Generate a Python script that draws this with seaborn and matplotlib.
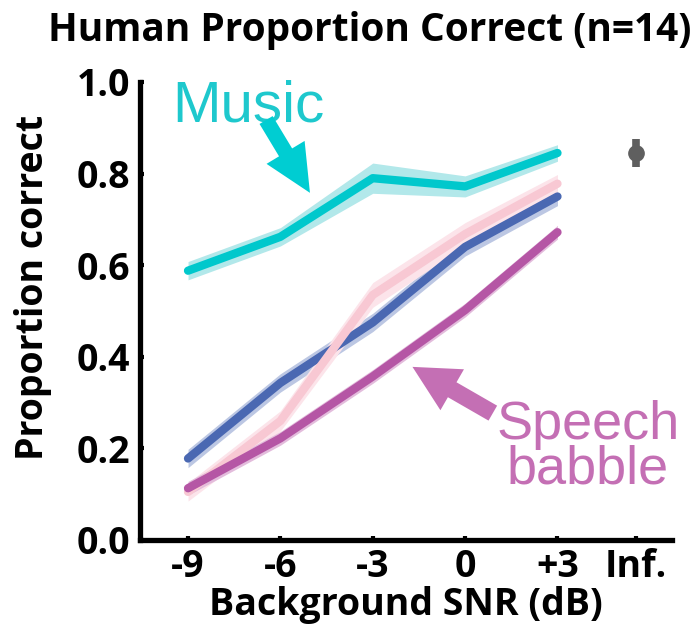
import matplotlib
matplotlib.use("Agg")
import matplotlib.pyplot as plt
import numpy as np
import pandas as pd
import seaborn as sns

# Background SNR conditions and their axis positions
snr_labels = ["-9", "-6", "-3", "0", "+3", "Inf."]
snr_pos = [0, 1, 2, 3, 4]
inf_pos = 4.85

# Mean proportion correct per background type
music_mean = [0.588, 0.662, 0.790, 0.772, 0.845]
music_err = [0.020, 0.020, 0.033, 0.023, 0.018]

blue_mean = [0.178, 0.343, 0.475, 0.640, 0.750]
blue_err = [0.020, 0.020, 0.020, 0.020, 0.020]

pink_mean = [0.105, 0.260, 0.535, 0.668, 0.778]
pink_err = [0.020, 0.022, 0.027, 0.025, 0.020]

babble_mean = [0.113, 0.222, 0.357, 0.502, 0.672]
babble_err = [0.015, 0.015, 0.015, 0.015, 0.015]

# Clean-speech (no background) condition
inf_mean = [0.845]
inf_err = [0.030]

sns.set_style("ticks")
plt.rcParams["font.family"] = ["Open Sans", "DejaVu Sans"]
plt.rcParams["text.color"] = "black"
plt.rcParams["axes.labelcolor"] = "black"

fig = plt.figure(figsize=(6.97, 6.31), dpi=100)
ax = fig.add_axes([140 / 697, 1 - 540 / 631, (672 - 140) / 697, (540 - 82) / 631])

series = [
    (music_mean, music_err, "#00C8CC", "#B2E8EA"),
    (blue_mean, blue_err, "#4A68B2", "#BCC7E3"),
    (pink_mean, pink_err, "#F8C8D3", "#FCE4EA"),
    (babble_mean, babble_err, "#B556A5", "#E3BCDC"),
]

for mean, err, line_color, band_color in series:
    m = np.array(mean)
    e = np.array(err)
    ax.fill_between(snr_pos, m - e, m + e, color=band_color, lw=0, zorder=2)
    df = pd.DataFrame({"snr": snr_pos, "pc": mean})
    sns.lineplot(data=df, x="snr", y="pc", ax=ax, color=line_color, lw=6, zorder=3)

ax.errorbar([inf_pos], inf_mean, yerr=inf_err, fmt="o", color="#5F5F5F",
            ms=11, elinewidth=5.5, capsize=0, zorder=4)

ax.set_xlim(-0.52, 5.24)
ax.set_ylim(0, 1.0)
ax.set_xticks(snr_pos + [inf_pos])
ax.set_xticklabels(snr_labels)
ax.set_yticks([0, 0.2, 0.4, 0.6, 0.8, 1.0])
ax.set_yticklabels(["0.0", "0.2", "0.4", "0.6", "0.8", "1.0"])

for lab in ax.get_xticklabels() + ax.get_yticklabels():
    lab.set_fontweight("bold")
ax.tick_params(axis="both", direction="in", length=3, width=3, labelsize=27,
               colors="black")
ax.tick_params(axis="y", pad=7)
ax.tick_params(axis="x", pad=6)

sns.despine(ax=ax)
for side in ["left", "bottom"]:
    ax.spines[side].set_linewidth(3.8)
    ax.spines[side].set_color("black")

ax.set_xlabel("Background SNR (dB)", fontsize=27, fontweight="bold", color="black")
ax.set_ylabel("Proportion correct", fontsize=27, fontweight="bold", color="black")
ax.xaxis.set_label_coords(0.5, -0.1)
ax.yaxis.set_label_coords(-0.165, 0.552)

fig.text(370 / 697, 1 - 30 / 631, "Human Proportion Correct (n=14)",
         fontsize=28, fontweight="bold", ha="center", va="center", color="black")

# Callout labels with arrows
ax.text(-0.17, 0.913, "Music", fontsize=42, color="#1EC8CD",
        family=["Liberation Sans"], ha="left", va="baseline")
ax.annotate("", xy=(1.32, 0.758), xytext=(0.845, 0.917),
            arrowprops=dict(arrowstyle="simple,head_length=1.7,head_width=1.6,tail_width=0.55",
                            mutation_scale=20, color="#00CDD2",
                            shrinkA=0, shrinkB=0, lw=0),
            zorder=5)

ax.text(4.33, 0.124, "Speech\nbabble", fontsize=39, color="#C46FB4",
        family=["Liberation Sans"], ha="center", va="baseline", linespacing=0.85)
ax.annotate("", xy=(2.43, 0.378), xytext=(3.30, 0.277),
            arrowprops=dict(arrowstyle="simple,head_length=1.65,head_width=1.7,tail_width=0.62",
                            mutation_scale=20, color="#C46FB4",
                            shrinkA=0, shrinkB=0, lw=0),
            zorder=5)

fig.savefig("out.png", dpi=100)
